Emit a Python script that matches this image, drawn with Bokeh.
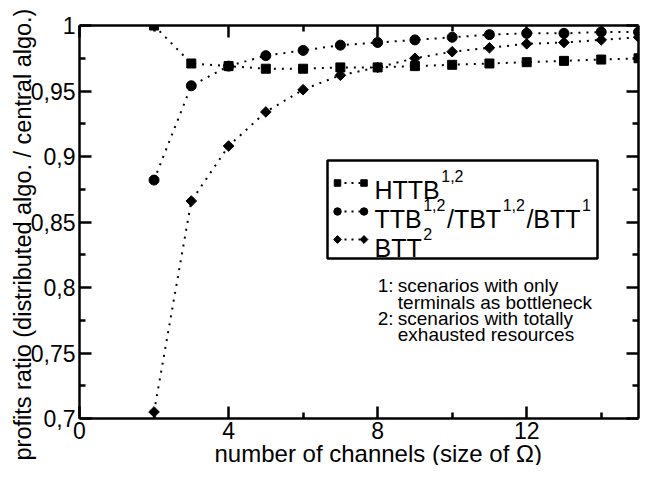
import math
from bokeh.plotting import figure
from bokeh.models import Range1d, LinearAxis, FixedTicker, BoxAnnotation, Label, Title
from bokeh.embed import file_html
from bokeh.resources import INLINE

# ---------------- data ----------------
channels = [2, 3, 4, 5, 6, 7, 8, 9, 10, 11, 12, 13, 14, 15]
httb = [1.000, 0.971, 0.969, 0.967, 0.967, 0.968, 0.968, 0.969, 0.970, 0.971, 0.972, 0.973, 0.974, 0.975]
ttb = [0.882, 0.954, 0.969, 0.977, 0.981, 0.985, 0.987, 0.989, 0.991, 0.993, 0.994, 0.994, 0.995, 0.995]
btt2 = [0.705, 0.866, 0.908, 0.934, 0.951, 0.962, 0.968, 0.975, 0.980, 0.983, 0.986, 0.987, 0.989, 0.991]

x_ticks = [0, 4, 8, 12]
x_minor_ticks = [2, 6, 10, 14]
x_tick_labels = ["0", "4", "8", "12"]
y_ticks = [0.7, 0.75, 0.8, 0.85, 0.9, 0.95, 1.0]
y_minor_ticks = [0.725, 0.775, 0.825, 0.875, 0.925, 0.975]
y_tick_labels = ["0,7", "0,75", "0,8", "0,85", "0,9", "0,95", "1"]

x_label = "number of channels (size of \u03a9)"
y_label = "profits ratio (distributed algo. / central algo.)"

legend_rows = [
    [("HTTB", False), ("1,2", True)],
    [("TTB", False), ("1,2", True), ("/TBT", False), ("1,2", True), ("/BTT", False), ("1", True)],
    [("BTT", False), ("2", True)],
]
legend_markers = ["square", "circle", "diamond"]
note_lines = [
    ("1:", "scenarios with only"),
    ("", "terminals as bottleneck"),
    ("2:", "scenarios with totally"),
    ("", "exhausted resources"),
]

# ---------------- layout ----------------
W, H = 640, 465
FL, FR, FT, FB = 79, 2, 25, 47          # borders (canvas px)
X0, X1, Y0, Y1 = 0, 15, 0.7, 1.0
FONT = "Liberation Sans"
LW = 2.5

PL, PR = FL, W - FR
PT, PB = FT, H - FB
def dx(px):
    return X0 + (px - PL) / (PR - PL) * (X1 - X0)
def dy(py):
    return Y1 - (py - PT) / (PB - PT) * (Y1 - Y0)

p = figure(width=W, height=H, output_backend="svg", toolbar_location=None,
           x_range=Range1d(X0, X1), y_range=Range1d(Y0, Y1),
           x_axis_type=None, y_axis_type=None,
           min_border_left=FL, min_border_right=FR, min_border_top=FT, min_border_bottom=FB)
p.outline_line_color = None
p.background_fill_color = "white"
p.border_fill_color = "white"
p.xgrid.visible = False
p.ygrid.visible = False


def make_axis(ticks, minor, labels, show, standoff, label_font="23px"):
    ax = LinearAxis(ticker=FixedTicker(ticks=ticks, minor_ticks=minor))
    ax.axis_line_width = LW
    ax.axis_line_color = "black"
    ax.major_tick_line_width = LW
    ax.minor_tick_line_width = LW
    ax.major_tick_line_color = "black"
    ax.minor_tick_line_color = "black"
    ax.major_tick_in = 12
    ax.major_tick_out = 0
    ax.minor_tick_in = 6
    ax.minor_tick_out = 0
    if show:
        ax.major_label_overrides = dict(zip(ticks, labels))
        ax.major_label_text_font = FONT
        ax.major_label_text_font_size = label_font
        ax.major_label_text_color = "black"
        ax.major_label_standoff = standoff
    else:
        ax.major_label_text_font_size = "0px"
        ax.major_label_text_color = None
        ax.major_label_standoff = 0
    return ax


ax_b = make_axis(x_ticks, x_minor_ticks, x_tick_labels, True, 3)
p.add_layout(ax_b, "below")
ax_l = make_axis(y_ticks, y_minor_ticks, y_tick_labels, True, 4)
p.add_layout(ax_l, "left")
p.add_layout(make_axis(x_ticks, x_minor_ticks, x_tick_labels, False, 0), "above")
p.add_layout(make_axis(y_ticks, y_minor_ticks, y_tick_labels, False, 0), "right")

# axis titles (left-aligned Titles so that the offset places them along the axis)
p.add_layout(Title(text=y_label, align="left", offset=-42, standoff=-16,
                   text_font=FONT, text_font_size="23.5px", text_font_style="normal",
                   text_color="black"), "left")
p.add_layout(Title(text=x_label, align="left", offset=135, standoff=-8,
                   text_font=FONT, text_font_size="24px", text_font_style="normal",
                   text_color="black"), "below")

# ---------------- data series ----------------
series = [(httb, "square", 9, 0), (ttb, "circle", 10, 0), (btt2, "square", 7.5, math.pi / 4)]
for vals, marker, size, ang in series:
    p.line(channels, vals, line_color="black", line_width=2, line_dash="2 6")
    p.scatter(channels, vals, marker=marker, size=size, angle=ang,
              fill_color="black", line_color="black")

# ---------------- legend (positions relative to its top-left corner) ----------------
LEG_X, LEG_Y = 327, 160          # top-left corner of the legend box (canvas px)
LEG_W, LEG_H = 270, 98
box = BoxAnnotation(left=dx(LEG_X), right=dx(LEG_X + LEG_W), top=dy(LEG_Y), bottom=dy(LEG_Y + LEG_H),
                    fill_color="white", fill_alpha=1, line_color="black",
                    line_alpha=1, line_width=LW, level="underlay")
p.add_layout(box)

# Arial/Liberation Sans advance widths (per 1000 em)
CW = {"H": 722, "T": 611, "B": 667, "/": 278, "1": 556, "2": 556, ",": 278}
def tw(s, size):
    return sum(CW[c] for c in s) * size / 1000.0

MAIN, SUP = 25, 16
row_base = [29.7, 58.7, 87.7]
sample_y = [22.5, 51, 79]
sample_x = [10, 36.5]
text_x0 = 47
for row, base, sy, mk in zip(legend_rows, row_base, sample_y, legend_markers):
    sx = [dx(LEG_X + v) for v in sample_x]
    syy = [dy(LEG_Y + sy), dy(LEG_Y + sy)]
    p.line(sx, syy, line_color="black", line_width=2, line_dash="2 5")
    if mk == "diamond":
        p.scatter(sx, syy, marker="square", size=5.5, angle=math.pi / 4, color="black")
    elif mk == "circle":
        p.scatter(sx, syy, marker="circle", size=7.5, color="black")
    else:
        p.scatter(sx, syy, marker="square", size=6.5, color="black")
    cur = LEG_X + text_x0
    for seg, sup in row:
        fs = SUP if sup else MAIN
        yb = LEG_Y + (base - 14.2 if sup else base)
        p.add_layout(Label(x=dx(cur), y=dy(yb), text=seg, text_font=FONT,
                           text_font_size=f"{fs}px", text_color="black",
                           text_baseline="alphabetic", text_align="left"))
        cur += tw(seg, fs) + 1.5

# ---------------- notes ----------------
note_base = [125.3, 141.5, 158, 174.3]
for (num, txt), base in zip(note_lines, note_base):
    if num:
        p.add_layout(Label(x=dx(LEG_X + 50.3), y=dy(LEG_Y + base), text=num, text_font=FONT,
                           text_font_size="19px", text_color="black",
                           text_baseline="alphabetic", text_align="left"))
    p.add_layout(Label(x=dx(LEG_X + 70.3), y=dy(LEG_Y + base), text=txt, text_font=FONT,
                       text_font_size="19px", text_color="black",
                       text_baseline="alphabetic", text_align="left"))

open("out.html", "w").write(file_html(p, INLINE))
